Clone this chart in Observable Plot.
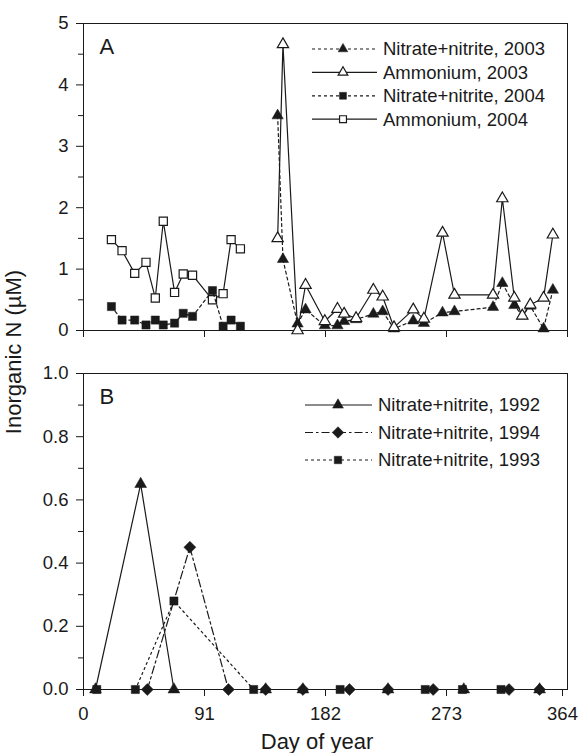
<!DOCTYPE html>
<html>
<head>
<meta charset="utf-8">
<script src="https://cdn.jsdelivr.net/npm/d3@7"></script>
<script src="https://cdn.jsdelivr.net/npm/@observablehq/plot@0.6"></script>
<style>
  body { margin: 0; background: #fff; }
  #chart { position: relative; width: 580px; height: 753px; font-family: "Liberation Sans", Arial, Helvetica, sans-serif; color: #1a1a1a; }
  #chart > svg { display: block; }
  #overlay { position: absolute; left: 0; top: 0; pointer-events: none; }
</style>
</head>
<body>
<div id="chart"></div>
<script>
// ---- Panel A: 2003 and 2004 sampling (day of year, µM) ----
const days2003 = [146, 150, 161, 167, 181.5, 191, 196, 205, 218, 225, 233.5, 248, 256, 270, 279, 308, 315, 324, 330, 336, 346, 353];
const ammonium2003 = [1.50, 4.66, 0.00, 0.74, 0.15, 0.35, 0.27, 0.20, 0.66, 0.55, 0.05, 0.34, 0.19, 1.59, 0.58, 0.58, 2.15, 0.53, 0.24, 0.42, 0.53, 1.56];
const nitrate2003 = [3.50, 1.16, 0.11, 0.34, 0.08, 0.08, 0.15, 0.18, 0.27, 0.31, 0.03, 0.16, 0.12, 0.29, 0.31, 0.38, 0.77, 0.41, 0.24, 0.40, 0.03, 0.66];

const days2004 = [21, 29, 38.5, 47, 54, 60, 68.5, 75, 82, 97, 105, 111, 118];
const ammonium2004 = [1.48, 1.30, 0.93, 1.11, 0.53, 1.78, 0.62, 0.92, 0.90, 0.50, 0.60, 1.48, 1.33];
const nitrate2004 = [0.39, 0.17, 0.17, 0.09, 0.17, 0.09, 0.12, 0.28, 0.23, 0.65, 0.07, 0.17, 0.07];

// ---- Panel B: 1992-1994 nitrate+nitrite ----
const days1992 = [9, 43, 68, 137, 165, 229, 286, 343];
const nitrate1992 = [0, 0.65, 0, 0, 0, 0, 0, 0];
const days1993 = [10, 39, 68, 128, 193, 257, 285, 314];
const nitrate1993 = [0, 0, 0.28, 0, 0, 0, 0, 0];
const days1994 = [48, 80, 109, 137, 165, 200, 229, 263, 320, 343];
const nitrate1994 = [0, 0.45, 0, 0, 0, 0, 0, 0, 0, 0];

// ---- Axis ticks and labels ----
const xTicks = [0, 91, 182, 273, 364];
const yTicksA = [0, 1, 2, 3, 4, 5];
const yMinorA = [0.5, 1.5, 2.5, 3.5, 4.5];
const yTicksB = [0, 0.2, 0.4, 0.6, 0.8, 1.0];
const yMinorB = [0.1, 0.3, 0.5, 0.7, 0.9];
const xTitle = "Day of year";
const yTitle = "Inorganic N (µM)";

const legendA = ["Nitrate+nitrite, 2003", "Ammonium, 2003", "Nitrate+nitrite, 2004", "Ammonium, 2004"];
const legendB = ["Nitrate+nitrite, 1992", "Nitrate+nitrite, 1994", "Nitrate+nitrite, 1993"];

// ---- Styling ----
const ink = "#1a1a1a";
const font = '"Liberation Sans", Arial, Helvetica, sans-serif';
const dashShort = "3,3";
const dashDot = "8,3,2.5,3";
const dotted = "2,3.5";

const series = (days, values) => days.map((d, i) => ({day: d, value: values[i]}));

const nit03 = series(days2003, nitrate2003);
const amm03 = series(days2003, ammonium2003);
const nit04 = series(days2004, nitrate2004);
const amm04 = series(days2004, ammonium2004);
const n92 = series(days1992, nitrate1992);
const n93 = series(days1993, nitrate1993);
const n94 = series(days1994, nitrate1994);

const xy = {x: "day", y: "value"};
const lineStyle = (dash) => ({...xy, stroke: ink, strokeWidth: 1.2, strokeDasharray: dash || null});
const filled = (symbol, r) => ({...xy, symbol, r, fill: ink, stroke: ink, strokeWidth: 0.5});
const open = (symbol, r) => ({...xy, symbol, r, fill: "white", stroke: ink, strokeWidth: 1.2});

const baseStyle = {fontFamily: font, fontSize: "18.5px", color: ink, background: "transparent", overflow: "visible"};

const chart = document.getElementById("chart");

const panelA = Plot.plot({
  width: 580,
  height: 345,
  marginTop: 23,
  marginBottom: 15,
  marginLeft: 83,
  marginRight: 13,
  style: baseStyle,
  x: {domain: [0, 364], label: null},
  y: {domain: [0, 5], label: null},
  marks: [
    Plot.frame({stroke: ink, strokeWidth: 1}),
    Plot.axisY({ticks: yMinorA, tickSize: 5, tickFormat: () => "", label: null, stroke: ink}),
    Plot.axisY({ticks: yTicksA, tickSize: 7, tickPadding: 8, tickFormat: d3.format("d"), label: null, stroke: ink, fill: ink}),
    Plot.axisX({ticks: xTicks, tickSize: 7, tickFormat: () => "", label: null, stroke: ink}),
    // 2003
    Plot.line(nit03, lineStyle(dashShort)),
    Plot.dot(nit03, filled("triangle", 4.2)),
    Plot.line(amm03, lineStyle()),
    Plot.dot(amm03, open("triangle", 4.2)),
    // 2004
    Plot.line(amm04, lineStyle()),
    Plot.dot(amm04, open("square", 4.6)),
    Plot.line(nit04, lineStyle(dashShort)),
    Plot.dot(nit04, filled("square", 4.6)),
    Plot.text(["A"], {text: d => d, frameAnchor: "top-left", textAnchor: "start", lineAnchor: "top", dx: 16, dy: 15, fontSize: 22, fill: ink})
  ]
});

const panelB = Plot.plot({
  width: 580,
  height: 408,
  marginTop: 28,
  marginBottom: 64,
  marginLeft: 83,
  marginRight: 13,
  style: baseStyle,
  x: {domain: [0, 364], label: null},
  y: {domain: [0, 1], label: null},
  marks: [
    Plot.frame({stroke: ink, strokeWidth: 1}),
    Plot.axisY({ticks: yMinorB, tickSize: 5, tickFormat: () => "", label: null, stroke: ink}),
    Plot.axisY({ticks: yTicksB, tickSize: 7, tickPadding: 8, tickFormat: d3.format(".1f"), label: null, stroke: ink, fill: ink}),
    Plot.axisX({ticks: xTicks.slice(0, -1), tickSize: 7, tickPadding: 10, tickFormat: d3.format("d"), label: null, stroke: ink, fill: ink}),
    // last tick label sits against the right edge; nudge it inward
    Plot.axisX({ticks: xTicks.slice(-1), tickSize: 7, tickPadding: 10, tickFormat: d3.format("d"), label: null, stroke: ink, fill: ink, dx: -5}),
    Plot.line(n93, lineStyle(dotted)),
    Plot.dot(n93, filled("square", 4.6)),
    Plot.line(n94, lineStyle(dashDot)),
    Plot.dot(n94, filled("diamond2", 5.4)),
    Plot.line(n92, lineStyle()),
    Plot.dot(n92, filled("triangle", 4.4)),
    Plot.text(["B"], {text: d => d, frameAnchor: "top-left", textAnchor: "start", lineAnchor: "top", dx: 16, dy: 15, fontSize: 22, fill: ink})
  ]
});

chart.append(panelA, panelB);

// ---- Overlay: shared axis titles and legends ----
const ov = d3.select(chart).append("svg")
  .attr("id", "overlay")
  .attr("width", 580)
  .attr("height", 753)
  .style("font-family", font)
  .style("overflow", "visible");

ov.append("text")
  .attr("transform", "translate(21,352) rotate(-90)")
  .attr("text-anchor", "middle")
  .attr("font-size", 22)
  .attr("fill", ink)
  .text(yTitle);

ov.append("text")
  .attr("x", 317)
  .attr("y", 749)
  .attr("text-anchor", "middle")
  .attr("font-size", 22)
  .attr("fill", ink)
  .text(xTitle);

const symbolPath = (type, r) => d3.symbol(type, r * r * Math.PI)();

function drawLegend(entries, {x0, x1, xm, xt, y0, step}) {
  entries.forEach((e, i) => {
    const y = y0 + i * step;
    const g = ov.append("g");
    g.append("line")
      .attr("x1", x0).attr("x2", x1).attr("y1", y).attr("y2", y)
      .attr("stroke", ink).attr("stroke-width", 1.2)
      .attr("stroke-dasharray", e.dash || null);
    g.append("path")
      .attr("d", symbolPath(e.symbol, e.r))
      .attr("transform", `translate(${xm},${y})`)
      .attr("fill", e.open ? "white" : ink)
      .attr("stroke", ink)
      .attr("stroke-width", e.open ? 1.2 : 0.5);
    g.append("text")
      .attr("x", xt).attr("y", y).attr("dy", "0.35em")
      .attr("font-size", 18.5).attr("fill", ink)
      .text(e.label);
  });
}

drawLegend([
  {label: legendA[0], dash: dashShort, symbol: d3.symbolTriangle, r: 3.6, open: false},
  {label: legendA[1], dash: null, symbol: d3.symbolTriangle, r: 3.6, open: true},
  {label: legendA[2], dash: dashShort, symbol: d3.symbolSquare, r: 3.9, open: false},
  {label: legendA[3], dash: null, symbol: d3.symbolSquare, r: 3.9, open: true}
], {x0: 312, x1: 377, xm: 343, xt: 383, y0: 49, step: 23.4});

drawLegend([
  {label: legendB[0], dash: null, symbol: d3.symbolTriangle, r: 4, open: false},
  {label: legendB[1], dash: dashDot, symbol: d3.symbolDiamond2, r: 5.2, open: false},
  {label: legendB[2], dash: dashShort, symbol: d3.symbolSquare, r: 4.2, open: false}
], {x0: 305, x1: 372, xm: 338, xt: 378, y0: 405, step: 27.5});
</script>
</body>
</html>
